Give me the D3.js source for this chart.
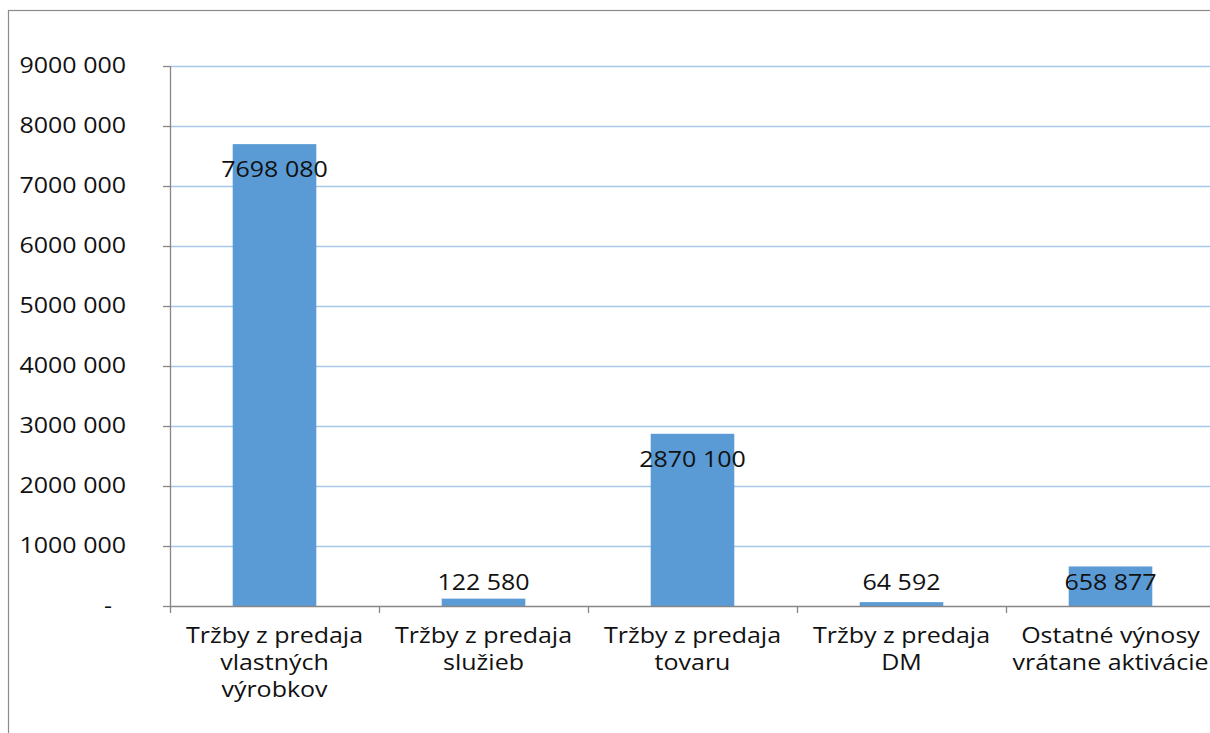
<!DOCTYPE html>
<html>
<head>
<meta charset="utf-8">
<script src="https://cdn.jsdelivr.net/npm/d3@7"></script>
<style>
  html, body { margin: 0; padding: 0; background: #fff; }
  svg { display: block; }
  text { font-family: "Open Sans", "Liberation Sans", sans-serif; fill: #111; }
</style>
</head>
<body>
<svg id="chart" width="1210" height="733"></svg>
<script>
// Revenue categories (each label split into display lines)
const categories = [
  ["Tržby z predaja", "vlastných", "výrobkov"],
  ["Tržby z predaja", "služieb"],
  ["Tržby z predaja", "tovaru"],
  ["Tržby z predaja", "DM"],
  ["Ostatné výnosy", "vrátane aktivácie"]
];
const values = [7698080, 122580, 2870100, 64592, 658877];
const yTicks = [0, 1000000, 2000000, 3000000, 4000000, 5000000, 6000000, 7000000, 8000000, 9000000];

const W = 1210, H = 733;
const plot = { left: 170, right: 1215, top: 66, bottom: 606 };
const stretch = 1.19; // horizontal widening of all glyphs
const fontSize = 21;

const svg = d3.select("#chart");

// "# ##0" style: only the thousands group gets a space, zero shown as a dash
function fmt(v) {
  if (v === 0) return "-";
  const hi = Math.floor(v / 1000), lo = v % 1000;
  return hi > 0 ? hi + " " + String(lo).padStart(3, "0") : String(lo);
}

// Text drawn with a horizontal stretch around its anchor point
function stretchedText(parent, x, y, str, anchor) {
  const g = parent.append("g").attr("transform", `translate(${x},${y}) scale(${stretch},1)`);
  g.append("text").attr("x", 0).attr("y", 0)
    .attr("text-anchor", anchor)
    .attr("font-size", fontSize)
    .text(str);
  return g;
}

// Outer chart frame (runs past the right and bottom of the view)
svg.append("rect")
  .attr("x", 8.5).attr("y", 10.5)
  .attr("width", W + 20).attr("height", H + 20)
  .attr("fill", "none").attr("stroke", "#8c8c8c").attr("stroke-width", 1.2);

const x = d3.scaleBand()
  .domain(d3.range(categories.length))
  .range([plot.left, plot.right])
  .paddingInner(0.6)
  .paddingOuter(0.3);

const y = d3.scaleLinear().domain([0, 9000000]).range([plot.bottom, plot.top]);

// Horizontal gridlines
svg.append("g").selectAll("line")
  .data(yTicks.filter(d => d > 0))
  .join("line")
  .attr("x1", plot.left).attr("x2", plot.right)
  .attr("y1", d => Math.round(y(d)) + 0.5).attr("y2", d => Math.round(y(d)) + 0.5)
  .attr("stroke", "#a6c9ea").attr("stroke-width", 1.3);

// Bars
svg.append("g").selectAll("rect")
  .data(values)
  .join("rect")
  .attr("x", (d, i) => x(i))
  .attr("width", x.bandwidth())
  .attr("y", d => y(d))
  .attr("height", d => plot.bottom - y(d))
  .attr("fill", "#5b9bd5");

// Y axis: line, outward ticks and labels
const yAxis = svg.append("g");
yAxis.append("line")
  .attr("x1", plot.left + 0.5).attr("x2", plot.left + 0.5)
  .attr("y1", plot.top).attr("y2", plot.bottom)
  .attr("stroke", "#868686").attr("stroke-width", 1.3);
yAxis.selectAll("line.tick")
  .data(yTicks)
  .join("line").attr("class", "tick")
  .attr("x1", plot.left - 7).attr("x2", plot.left)
  .attr("y1", d => Math.round(y(d)) + 0.5).attr("y2", d => Math.round(y(d)) + 0.5)
  .attr("stroke", "#868686").attr("stroke-width", 1.3);
yTicks.forEach(d => {
  const lx = d === 0 ? 112 : 126;
  stretchedText(yAxis, lx, y(d) + 7, fmt(d), "end");
});

// X axis: baseline and category boundary ticks
const xAxis = svg.append("g");
xAxis.append("line")
  .attr("x1", plot.left).attr("x2", plot.right)
  .attr("y1", plot.bottom + 0.5).attr("y2", plot.bottom + 0.5)
  .attr("stroke", "#868686").attr("stroke-width", 1.3);
const step = x.step();
const bounds = d3.range(categories.length + 1).map(i => plot.left + i * step);
xAxis.selectAll("line.tick")
  .data(bounds)
  .join("line").attr("class", "tick")
  .attr("x1", d => Math.round(d) + 0.5).attr("x2", d => Math.round(d) + 0.5)
  .attr("y1", plot.bottom).attr("y2", plot.bottom + 7)
  .attr("stroke", "#868686").attr("stroke-width", 1.3);

// Category labels, centred under each band
categories.forEach((lines, i) => {
  const cx = x(i) + x.bandwidth() / 2;
  lines.forEach((ln, j) => {
    stretchedText(xAxis, cx, 643 + j * 27, ln, "middle");
  });
});

// Value labels: inside the top of tall bars, just above the axis for short ones
const labels = svg.append("g");
values.forEach((v, i) => {
  const cx = x(i) + x.bandwidth() / 2;
  const ly = Math.min(y(v) + 33, plot.bottom - 16);
  stretchedText(labels, cx, ly, fmt(v), "middle");
});
</script>
</body>
</html>
